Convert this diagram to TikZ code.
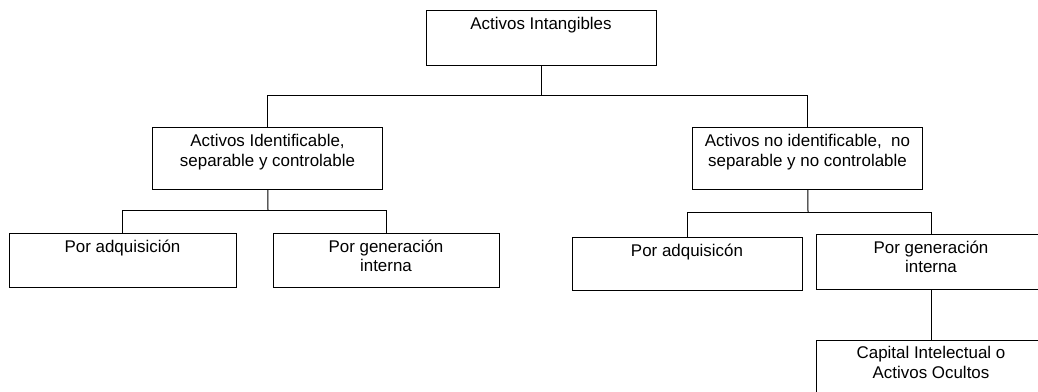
\documentclass[tikz,border=0pt]{standalone}
\usepackage{fontspec}
\setmainfont{Liberation Sans}
\begin{document}
\begin{tikzpicture}[x=0.75pt,y=-0.75pt]
		\tikzset{box/.style = {draw, line width=0.75pt, inner sep=0pt, minimum width=230*0.75pt}}
		\tikzset{lbl/.style = {anchor=north, inner sep=0pt, yshift=-5.2pt, align=center,
				font=\fontsize{12.7}{14.3}\selectfont}}
		\tikzset{edge/.style = {line width=0.75pt}}
		
		\clip (0,0) rectangle (1038,392);
		
		\node[box, minimum height=55*0.75pt]  (0) at ( 541,  38.5) {};
		\node[box, minimum height=61*0.75pt]  (1) at (267.5, 158.5) {};
		\node[box, minimum height=61*0.75pt]  (2) at (807.5, 158.5) {};
		\node[box, minimum height=54*0.75pt, minimum width=227*0.75pt]  (3) at (122.5, 260) {};
		\node[box, minimum height=54*0.75pt, minimum width=226*0.75pt]  (4) at ( 386,  260) {};
		\node[box, minimum height=53*0.75pt]  (5) at ( 687, 263.5) {};
		\node[box, minimum height=55*0.75pt]  (6) at ( 931, 261.5) {};
		\node[box, minimum height=60*0.75pt]  (7) at ( 931,  370) {};
		
		\node[lbl] (0t) at (0.north) {Activos Intangibles};
		\node[lbl] (1t) at (1.north) {Activos Identificable,\\separable y controlable};
		\node[lbl] (2t) at (2.north) {Activos no identificable,\ \ no\\separable y no controlable};
		\node[lbl] (3t) at (3.north) {Por adquisición};
		\node[lbl] (4t) at (4.north) {Por generación\\interna};
		\node[lbl] (5t) at (5.north) {Por adquisicón};
		\node[lbl] (6t) at (6.north) {Por generación\\interna};
		\node[lbl] (7t) at (7.north) {Capital Intelectual o\\Activos Ocultos};
		
		\coordinate (j0) at (541, 96);
		\coordinate (j1) at (268, 210);
		\coordinate (j2) at (808, 212);
		
		\draw[edge] (0) to (j0);
		\draw[edge] (j0) -| (1);
		\draw[edge] (j0) -| (2);
		\draw[edge] (1) to (j1);
		\draw[edge] (j1) -| (3);
		\draw[edge] (j1) -| (4);
		\draw[edge] (2) to (j2);
		\draw[edge] (j2) -| (5);
		\draw[edge] (j2) -| (6);
		\draw[edge] (6) to (7);
\end{tikzpicture}
\end{document}
